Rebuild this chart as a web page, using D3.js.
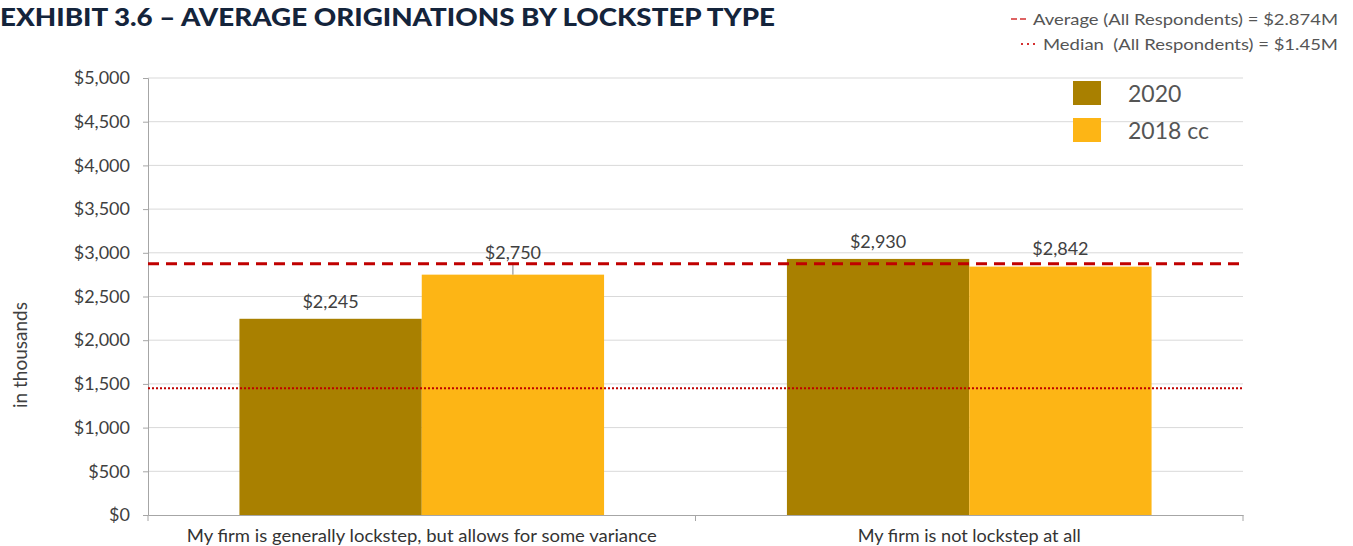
<!DOCTYPE html>
<html>
<head>
<meta charset="utf-8">
<script src="https://cdn.jsdelivr.net/npm/d3@7"></script>
<style>
  body { margin: 0; background: #fff; }
  svg { display: block; font-family: Lato, "Open Sans", sans-serif; }
</style>
</head>
<body>
<script>
// chart data
var categories = ["My firm is generally lockstep, but allows for some variance", "My firm is not lockstep at all"];
var seriesNames = ["2020", "2018 cc"];
var values2020 = [2245, 2930];
var values2018 = [2750, 2842];
var yTicks = [0, 500, 1000, 1500, 2000, 2500, 3000, 3500, 4000, 4500, 5000];
var averageValue = 2874;
var medianValue = 1450;
var colors = ["#a98000", "#fdb515"];

var W = 1353, H = 546;
var plotLeft = 148, plotRight = 1243, plotTop = 78, plotBottom = 515;

var svg = d3.select("body").append("svg")
	.attr("width", W)
	.attr("height", H);

// one band per category, bars sit inside with side padding
var x0 = d3.scaleBand().domain(categories).range([plotLeft, plotRight]);
var groupPad = 0.167;

var x1 = d3.scaleBand()
	.domain(seriesNames)
	.range([0, x0.bandwidth() * (1 - 2 * groupPad)]);

var y = d3.scaleLinear()
	.domain([0, 5000])
	.range([plotBottom, plotTop]);

// gridlines
svg.append("g")
	.selectAll("line")
	.data(yTicks.slice(1))
	.enter().append("line")
	.attr("x1", plotLeft)
	.attr("x2", plotRight)
	.attr("y1", function (d) { return y(d); })
	.attr("y2", function (d) { return y(d); })
	.style("stroke", "#d9d9d9")
	.style("stroke-width", 1);

// y axis
var yAxis = svg.append("g")
	.attr("transform", "translate(" + plotLeft + ",0)")
	.call(d3.axisLeft(y).tickValues(yTicks).tickSize(5).tickPadding(13)
		.tickFormat(function (d) { return "$" + d3.format(",")(d); }));
yAxis.select(".domain").style("stroke", "#a6a6a6");
yAxis.selectAll(".tick line").style("stroke", "#a6a6a6");
yAxis.selectAll("text")
	.style("font-size", "18px")
	.style("fill", "#404040")
	.style("font-family", "Lato, sans-serif");

// bars
var rows = categories.map(function (c, i) {
	return { cat: c, vals: [values2020[i], values2018[i]] };
});

var groups = svg.append("g")
	.selectAll("g")
	.data(rows)
	.enter().append("g")
	.attr("transform", function (d) {
		return "translate(" + (x0(d.cat) + x0.bandwidth() * groupPad) + ",0)";
	});

groups.selectAll("rect")
	.data(function (d) { return d.vals.map(function (v, i) { return { name: seriesNames[i], v: v, i: i }; }); })
	.enter().append("rect")
	.attr("x", function (d) { return x1(d.name); })
	.attr("y", function (d) { return y(d.v); })
	.attr("width", x1.bandwidth())
	.attr("height", function (d) { return plotBottom - y(d.v); })
	.style("fill", function (d) { return colors[d.i]; });

// x axis
var xLabelWidths = [470, 223];
var xAxis = svg.append("g")
	.attr("transform", "translate(0," + plotBottom + ")")
	.call(d3.axisBottom(x0).tickSize(0).tickPadding(15));
xAxis.select(".domain").style("stroke", "#a6a6a6");
xAxis.selectAll("text")
	.style("font-size", "17px")
	.style("fill", "#333")
	.style("font-family", "Lato, sans-serif")
	.attr("textLength", function (d, i) { return xLabelWidths[i]; })
	.attr("lengthAdjust", "spacingAndGlyphs");
// category separators
svg.append("g")
	.selectAll("line")
	.data([plotLeft, x0(categories[1]), plotRight])
	.enter().append("line")
	.attr("x1", function (d) { return d; })
	.attr("x2", function (d) { return d; })
	.attr("y1", plotBottom)
	.attr("y2", plotBottom + 6)
	.style("stroke", "#a6a6a6");

// value labels (offset above bar top)
var labelLift = [[11, 16], [11, 12]];
groups.each(function (row, gi) {
	var g = d3.select(this);
	row.vals.forEach(function (v, i) {
		var cx = x1(seriesNames[i]) + x1.bandwidth() / 2;
		var ly = y(v) - labelLift[gi][i];
		g.append("text")
			.attr("x", cx)
			.attr("y", ly)
			.attr("text-anchor", "middle")
			.style("font-size", "18px")
			.style("fill", "#404040")
			.text("$" + d3.format(",")(v));
		if (gi == 0 && i == 1) {
			g.append("line")
				.attr("x1", cx).attr("x2", cx)
				.attr("y1", ly + 4).attr("y2", y(v))
				.style("stroke", "#808080");
		}
	});
});

// reference lines
svg.append("line")
	.attr("x1", plotLeft).attr("x2", plotRight)
	.attr("y1", y(averageValue)).attr("y2", y(averageValue))
	.style("stroke", "#c00000")
	.style("stroke-width", 3)
	.style("stroke-dasharray", "11,7");
svg.append("line")
	.attr("x1", plotLeft).attr("x2", plotRight)
	.attr("y1", y(medianValue)).attr("y2", y(medianValue))
	.style("stroke", "#c00000")
	.style("stroke-width", 2)
	.style("stroke-dasharray", "2,2");

// y axis title
svg.append("text")
	.attr("transform", "translate(27,355) rotate(-90)")
	.attr("text-anchor", "middle")
	.style("font-size", "19px")
	.style("fill", "#404040")
	.text("in thousands");

// title
svg.append("text")
	.attr("x", 0)
	.attr("y", 26)
	.attr("textLength", 775)
	.attr("lengthAdjust", "spacingAndGlyphs")
	.style("font-size", "24px")
	.style("font-weight", "900")
	.style("fill", "#14243b")
	.text("EXHIBIT 3.6 \u2013 AVERAGE ORIGINATIONS BY LOCKSTEP TYPE");

// reference line legend (top right)
var refLegend = [
	{ label: "Average (All Respondents) = $2.874M", len: 305, dash: "6,3", w: 1.5, y: 19 },
	{ label: "Median\u00a0\u00a0(All Respondents) = $1.45M", len: 295, dash: "2,4", w: 2, y: 44 }
];
refLegend.forEach(function (d) {
	svg.append("text")
		.attr("x", 1338)
		.attr("y", d.y + 6)
		.attr("text-anchor", "end")
		.attr("textLength", d.len)
		.attr("lengthAdjust", "spacingAndGlyphs")
		.style("font-size", "16px")
		.style("fill", "#555")
		.text(d.label);
	svg.append("line")
		.attr("x1", 1338 - d.len - 22).attr("x2", 1338 - d.len - 4)
		.attr("y1", d.y).attr("y2", d.y)
		.style("stroke", "#d43030")
		.style("stroke-width", d.w)
		.style("stroke-dasharray", d.dash);
});

// series legend
var leg = svg.append("g")
	.selectAll("g")
	.data(seriesNames)
	.enter().append("g")
	.attr("transform", function (d, i) { return "translate(1073," + (81 + i * 37) + ")"; });
leg.append("rect")
	.attr("width", 28)
	.attr("height", 24)
	.style("fill", function (d, i) { return colors[i]; });
leg.append("text")
	.attr("x", 55)
	.attr("y", 21)
	.style("font-size", "23px")
	.style("fill", "#555")
	.text(function (d) { return d; });
</script>
</body>
</html>
